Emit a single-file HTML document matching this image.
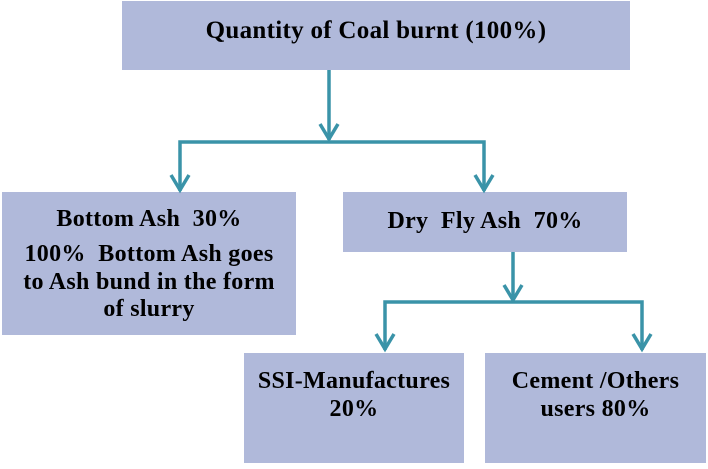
<!DOCTYPE html>
<html><head><style>
body{margin:0;width:708px;height:469px;background:#fff;position:relative;overflow:hidden;font-family:"Liberation Serif",serif;font-weight:bold;color:#000}
.b{position:absolute;background:#b0b9da;box-sizing:border-box;text-align:center;font-size:24px;line-height:28px;letter-spacing:0.3px}
.l{position:absolute;left:0;right:0;text-align:center;white-space:nowrap}
svg{position:absolute;left:0;top:0}
</style></head><body>
<div class="b" style="left:122px;top:1px;width:508px;height:69px"><div class="l" style="top:16px;font-size:25px">Quantity of Coal burnt (100%)</div></div>
<div class="b" style="left:2px;top:192px;width:294px;height:143px">
<div class="l" style="top:13px">Bottom Ash&nbsp; 30%</div>
<div class="l" style="top:48px">100%&nbsp; Bottom Ash goes</div>
<div class="l" style="top:76px">to Ash bund in the form</div>
<div class="l" style="top:103px">of slurry</div></div>
<div class="b" style="left:343px;top:192px;width:284px;height:60px"><div class="l" style="top:15px">Dry&nbsp; Fly Ash&nbsp; 70%</div></div>
<div class="b" style="left:244px;top:353px;width:220px;height:110px"><div class="l" style="top:14px">SSI-Manufactures</div><div class="l" style="top:42px">20%</div></div>
<div class="b" style="left:485px;top:353px;width:221px;height:110px"><div class="l" style="top:14px">Cement /Others</div><div class="l" style="top:42px">users 80%</div></div>
<svg width="708" height="469" fill="none" stroke="#3a93a8" stroke-width="3.5">
<path d="M329 70V140M180 191V142H484V191"/>
<path d="M320 124L329 139L338 124M171 175L180 190L189 175M475 175L484 190L493 175"/>
<path d="M513 252V300M385 350V302H642V350"/>
<path d="M504 285L513 300L522 285M376 334L385 349L394 334M633 334L642 349L651 334"/>
</svg>
</body></html>
